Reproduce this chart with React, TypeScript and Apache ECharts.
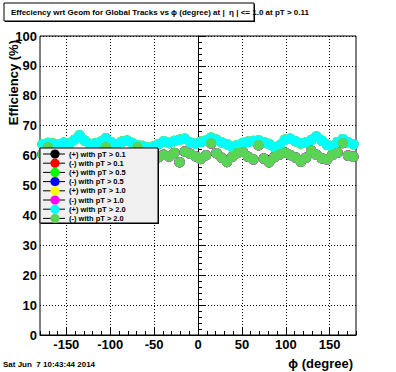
import React, { useEffect, useRef } from "react";
import * as echarts from "echarts";

const phiCenters = [
  -177, -171, -165, -159, -153, -147, -141, -135, -129, -123, -117, -111, -105, -99, -93,
  -87, -81, -75, -69, -63, -57, -51, -45, -39, -33, -27, -21, -15, -9, -3,
  3, 9, 15, 21, 27, 33, 39, 45, 51, 57, 63, 69, 75, 81, 87,
  93, 99, 105, 111, 117, 123, 129, 135, 141, 147, 153, 159, 165, 171, 177,
];

// (+) tracks (pT > 2.0 on top, the others lie beneath it)
const plusEff = [
  63.8, 64.2, 64.0, 63.6, 64.3, 64.0, 65.2, 66.8, 65.0, 63.9, 64.1, 64.6, 65.8, 64.5, 63.8,
  64.6, 65.0, 64.2, 63.5, 63.2, 62.6, 63.0, 63.8, 64.8, 64.2, 64.9, 65.3, 65.6, 64.4, 64.0,
  64.6, 65.0, 66.0, 65.3, 64.4, 63.8, 62.9, 63.5, 64.2, 64.6, 64.9, 65.1, 64.5, 63.9, 62.8,
  63.4, 65.3, 65.6, 64.8, 64.1, 64.4, 65.2, 66.4, 65.0, 63.6, 63.0, 64.5, 65.5, 64.4, 63.8,
];

// (-) tracks
const minusEff = [
  60.5, 62.8, 60.8, 60.0, 59.4, 59.8, 60.6, 59.2, 60.4, 59.6, 60.2, 61.0, 62.9, 60.1, 59.5,
  60.3, 59.0, 60.7, 62.8, 60.2, 59.6, 58.8, 59.5, 60.3, 59.7, 60.9, 57.8, 61.4, 60.6, 59.8,
  58.9, 60.1, 64.1, 60.8, 59.3, 57.9, 59.6, 60.9, 61.3, 59.6, 58.7, 63.5, 59.0, 57.8, 59.5,
  60.4, 61.0, 60.2, 59.4, 58.0, 59.3, 61.6, 60.3, 59.1, 58.7, 60.2, 61.0, 64.2, 60.0, 59.6,
];

const seriesNames = [
  "(+) with pT > 0.1",
  "(-) with pT > 0.1",
  "(+) with pT > 0.5",
  "(-) with pT > 0.5",
  "(+) with pT > 1.0",
  "(-) with pT > 1.0",
  "(+) with pT > 2.0",
  "(-) with pT > 2.0",
];
const seriesValues = [plusEff, minusEff, plusEff, minusEff, plusEff, minusEff, plusEff, minusEff];
const seriesColors = ["#000000", "#ff0000", "#00ff00", "#0000ff", "#ffff00", "#ff00ff", "#00ffff", "#59d454"];

const xTicks = [-150, -100, -50, 0, 50, 100, 150];

const FONT = "'Liberation Sans', Arial, Helvetica, sans-serif";

export default function App() {
  const ref = useRef<HTMLDivElement>(null);
  useEffect(() => {
    if (!ref.current) return;
    const chart = echarts.init(ref.current, null, { renderer: "svg" });
    const gl = 40, gt = 36, gw = 316, gh = 299;
    const pxPerDeg = gw / 360;

    // legend box (drawn with graphic elements, ROOT TLegend look)
    const lx = 40, ly = 148, lw = 118, lh = 75, rowH = 9.2;
    const legendEls: any[] = [
      { type: "rect", z: 20, shape: { x: lx + 1, y: ly + 1, width: lw, height: lh }, style: { fill: "#000" } },
      { type: "rect", z: 21, shape: { x: lx, y: ly, width: lw, height: lh }, style: { fill: "#f0f0f0", stroke: "#000", lineWidth: 1 } },
    ];
    seriesNames.forEach((name, i) => {
      const cy = ly + 6 + rowH * i;
      legendEls.push(
        { type: "line", z: 22, shape: { x1: lx + 3, y1: cy, x2: lx + 25, y2: cy }, style: { stroke: "#000", lineWidth: 1 } },
        { type: "circle", z: 23, shape: { cx: lx + 15, cy, r: 4.6 }, style: { fill: seriesColors[i] } },
        {
          type: "text",
          z: 23,
          x: lx + 29,
          y: cy,
          style: { text: name, font: `bold 7.5px ${FONT}`, fill: "#000", align: "left", verticalAlign: "middle" },
        }
      );
    });

    const option: any = {
      animation: false,
      backgroundColor: "#ffffff",
      textStyle: { fontFamily: FONT },
      title: {
        text: "Effeciency wrt Geom for Global Tracks vs ϕ (degree) at |  η | <= 1.0 at pT > 0.11",
        left: 11,
        top: 8,
        padding: 0,
        textStyle: { fontSize: 8, fontWeight: "bold", color: "#000", fontFamily: FONT },
      },
      grid: [
        { left: gl, top: gt, width: gw, height: gh, show: true, borderColor: "#000", borderWidth: 1, backgroundColor: "transparent" },
        { left: gl + 30 * pxPerDeg, top: gt, width: 300 * pxPerDeg, height: gh, show: false },
      ],
      xAxis: [
        {
          gridIndex: 0,
          type: "value",
          min: -180,
          max: 180,
          interval: 10,
          axisLine: { show: true, lineStyle: { color: "#000", width: 1 } },
          axisTick: { show: true, inside: true, length: 4, lineStyle: { color: "#000" } },
          axisLabel: {
            margin: 3,
            fontSize: 13,
            fontWeight: "bold",
            color: "#000",
            fontFamily: FONT,
            formatter: (v: number) => (xTicks.indexOf(v) >= 0 ? String(v) : ""),
          },
          splitLine: { show: false },
        },
        {
          gridIndex: 1,
          type: "value",
          min: xTicks[0],
          max: xTicks[xTicks.length - 1],
          interval: 50,
          axisLine: { show: false },
          axisTick: { show: true, inside: true, length: 8, lineStyle: { color: "#000" } },
          axisLabel: { show: false },
          splitLine: { show: true, lineStyle: { color: "#000", type: [1, 2], width: 1 } },
        },
      ],
      yAxis: [
        {
          gridIndex: 0,
          type: "value",
          min: 0,
          max: 100,
          interval: 10,
          axisLine: { show: true, lineStyle: { color: "#000", width: 1 } },
          axisTick: { show: true, inside: true, length: 8, lineStyle: { color: "#000" } },
          minorTick: { show: true, splitNumber: 5, length: 4, lineStyle: { color: "#000" } },
          axisLabel: { margin: 3, fontSize: 13, fontWeight: "bold", color: "#000", fontFamily: FONT },
          splitLine: { show: true, lineStyle: { color: "#000", type: [1, 2], width: 1 } },
        },
        { gridIndex: 1, type: "value", min: 0, max: 100, show: false },
      ],
      graphic: [
        { type: "rect", z: 0, shape: { x: 5, y: 4, width: 250, height: 18 }, style: { fill: "#000" } },
        { type: "rect", z: 1, shape: { x: 4, y: 3, width: 250, height: 18 }, style: { fill: "#fff", stroke: "#000", lineWidth: 1 } },
        ...legendEls,
        {
          type: "text",
          x: 13,
          y: 40,
          rotation: Math.PI / 2,
          style: { text: "Efficiency (%)", font: `bold 13px ${FONT}`, fill: "#000", align: "right", verticalAlign: "middle" },
        },
        {
          type: "text",
          x: 353,
          y: 363,
          style: { text: "ϕ (degree)", font: `bold 13px ${FONT}`, fill: "#000", align: "right", verticalAlign: "middle" },
        },
        {
          type: "text",
          x: 3,
          y: 364,
          style: { text: "Sat Jun  7 10:43:44 2014", font: `bold 8px ${FONT}`, fill: "#000", align: "left", verticalAlign: "middle" },
        },
      ],
      series: seriesNames.map((name, i) => ({
        name,
        type: "line",
        xAxisIndex: 0,
        yAxisIndex: 0,
        data: phiCenters.map((x, j) => [x, seriesValues[i][j]]),
        symbol: "circle",
        symbolSize: 10.5,
        showSymbol: true,
        showAllSymbol: true,
        lineStyle: { width: 0, opacity: 0 },
        itemStyle: { color: seriesColors[i] },
        z: 2,
      })),
    };
    chart.setOption(option);
    return () => chart.dispose();
  }, []);
  return <div ref={ref} style={{ position: "absolute", left: 0, top: 0, width: 396, height: 372 }} />;
}
